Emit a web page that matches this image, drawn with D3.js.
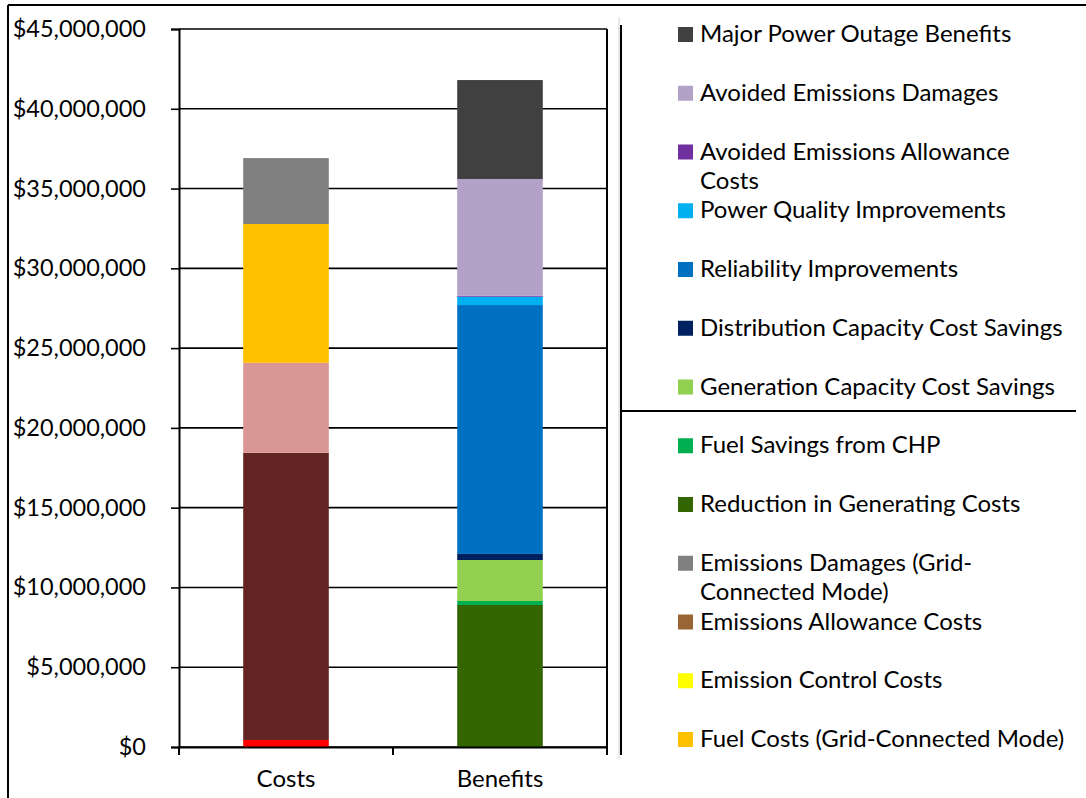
<html>
<head>
    <script src="https://d3js.org/d3.v7.min.js" charSet="utf-8"></script>
    <style>
        body { margin: 0; background: #fff; }
        .axis-text, .legend-text { font-family: Lato, "Open Sans", sans-serif; fill: #000; }
    </style>
</head>
<body>
<div id="vis_container"></div>
<script>
    // categories on the x axis
    let categories = ["Costs", "Benefits"];

    // series in stacking order (bottom to top); values are [Costs, Benefits]
    let seriesNames = [
        "Initial Planning Costs",
        "Capital Costs",
        "Operations and Maintenance Costs",
        "Fuel Costs (Grid-Connected Mode)",
        "Emission Control Costs",
        "Emissions Allowance Costs",
        "Emissions Damages (Grid-Connected Mode)",
        "Reduction in Generating Costs",
        "Fuel Savings from CHP",
        "Generation Capacity Cost Savings",
        "Distribution Capacity Cost Savings",
        "Reliability Improvements",
        "Power Quality Improvements",
        "Avoided Emissions Allowance Costs",
        "Avoided Emissions Damages",
        "Major Power Outage Benefits"
    ];
    let seriesColors = [
        "#FF0000", "#632523", "#DA9694", "#FFC000", "#FFFF00", "#996633", "#808080",
        "#336600", "#00B050", "#92D050", "#002060", "#0070C0", "#00B0F0", "#7030A0",
        "#B3A2C7", "#404040"
    ];
    let costValues = [440000, 18000000, 5640000, 8700000, 0, 0, 4130000,
        0, 0, 0, 0, 0, 0, 0, 0, 0];
    let benefitValues = [0, 0, 0, 0, 0, 0, 0,
        8900000, 250000, 2570000, 380000, 15600000, 520000, 60000, 7320000, 6200000];

    // legend entries as visible (top to bottom), the rest is cut off
    let legendItems = [
        ["Major Power Outage Benefits"],
        ["Avoided Emissions Damages"],
        ["Avoided Emissions Allowance", "Costs"],
        ["Power Quality Improvements"],
        ["Reliability Improvements"],
        ["Distribution Capacity Cost Savings"],
        ["Generation Capacity Cost Savings"],
        ["Fuel Savings from CHP"],
        ["Reduction in Generating Costs"],
        ["Emissions Damages (Grid-", "Connected Mode)"],
        ["Emissions Allowance Costs"],
        ["Emission Control Costs"],
        ["Fuel Costs (Grid-Connected Mode)"]
    ];
    let legendKeys = ["Major Power Outage Benefits", "Avoided Emissions Damages",
        "Avoided Emissions Allowance Costs", "Power Quality Improvements", "Reliability Improvements",
        "Distribution Capacity Cost Savings", "Generation Capacity Cost Savings", "Fuel Savings from CHP",
        "Reduction in Generating Costs", "Emissions Damages (Grid-Connected Mode)",
        "Emissions Allowance Costs", "Emission Control Costs", "Fuel Costs (Grid-Connected Mode)"];

    let yTicks = d3.range(0, 45000001, 5000000);

    let W = 1086, H = 798;
    let plotLeft = 179, plotRight = 607, plotTop = 29, plotBottom = 747;

    let svg = d3.select("#vis_container").append("svg")
        .attr("width", W).attr("height", H);

    // table rows for d3.stack
    let table = categories.map(function(c, i) {
        let row = {category: c};
        seriesNames.forEach(function(s, j) {
            row[s] = (i == 0 ? costValues : benefitValues)[j];
        });
        return row;
    });
    let stacked = d3.stack().keys(seriesNames)(table);
    let color = d3.scaleOrdinal().domain(seriesNames).range(seriesColors);

    let x = d3.scaleBand().domain(categories).range([plotLeft, plotRight]);
    let y = d3.scaleLinear().domain([0, 45000000]).range([plotBottom, plotTop]);
    let barW = x.bandwidth() * 0.4;

    // outer frame bits
    svg.append("line").attr("x1", 8).attr("x2", W).attr("y1", 5).attr("y2", 5)
        .attr("stroke", "#000").attr("stroke-width", 2);
    svg.append("line").attr("x1", 8).attr("x2", 8).attr("y1", 5).attr("y2", H)
        .attr("stroke", "#000").attr("stroke-width", 2);
    svg.append("line").attr("x1", 619).attr("x2", 619).attr("y1", 17).attr("y2", 758)
        .attr("stroke", "#d0d0d0").attr("stroke-width", 1);

    // gridlines
    svg.append("g").selectAll("line").data(yTicks).enter().append("line")
        .attr("x1", plotLeft).attr("x2", plotRight)
        .attr("y1", function(d) { return y(d); }).attr("y2", function(d) { return y(d); })
        .attr("stroke", "#000").attr("stroke-width", 1.6);

    // bars
    svg.append("g").selectAll("g").data(stacked).enter().append("g")
        .attr("fill", function(d) { return color(d.key); })
        .selectAll("rect").data(function(d) { return d; }).enter().append("rect")
        .attr("x", function(d) { return x(d.data.category) + (x.bandwidth() - barW) / 2; })
        .attr("width", barW)
        .attr("y", function(d) { return y(d[1]); })
        .attr("height", function(d) { return y(d[0]) - y(d[1]); });

    // y axis
    let yAxis = svg.append("g")
        .attr("transform", "translate(" + plotLeft + ",0)")
        .call(d3.axisLeft(y).tickValues(yTicks).tickSize(8).tickPadding(25)
            .tickFormat(function(d) { return "$" + d3.format(",")(d); }));
    yAxis.select(".domain").attr("stroke-width", 2);
    yAxis.selectAll(".tick line").attr("stroke-width", 1.6);
    yAxis.selectAll("text").attr("class", "axis-text").style("font-size", "23.5px");

    // x axis
    let xAxis = svg.append("g")
        .attr("transform", "translate(0," + plotBottom + ")")
        .call(d3.axisBottom(x).tickSize(0).tickPadding(23));
    xAxis.select(".domain").attr("stroke-width", 2);
    xAxis.selectAll("text").attr("class", "axis-text").style("font-size", "24px");
    svg.append("g").selectAll("line").data([plotLeft, plotLeft + x.bandwidth(), plotRight]).enter().append("line")
        .attr("x1", function(d) { return d; }).attr("x2", function(d) { return d; })
        .attr("y1", plotBottom).attr("y2", plotBottom + 8)
        .attr("stroke", "#000").attr("stroke-width", 2);
    svg.append("line").attr("x1", plotRight).attr("x2", plotRight).attr("y1", plotTop).attr("y2", plotBottom)
        .attr("stroke", "#000").attr("stroke-width", 2);

    // legend table lines
    svg.append("line").attr("x1", 621).attr("x2", 621).attr("y1", 25).attr("y2", 755)
        .attr("stroke", "#000").attr("stroke-width", 2);
    svg.append("line").attr("x1", 621).attr("x2", 1076).attr("y1", 411).attr("y2", 411)
        .attr("stroke", "#000").attr("stroke-width", 2);

    // legend
    let legendY = d3.scalePoint().domain(d3.range(legendItems.length)).range([34, 739]);
    let lg = svg.append("g").selectAll("g").data(legendItems).enter().append("g")
        .attr("transform", function(d, i) { return "translate(678," + legendY(i) + ")"; });
    lg.append("rect").attr("x", 0).attr("y", -7).attr("width", 15).attr("height", 15)
        .attr("fill", function(d, i) { return color(legendKeys[i]); });
    lg.each(function(d) {
        let t = d3.select(this).append("text").attr("class", "legend-text")
            .attr("x", 22).attr("y", 8).style("font-size", "24px");
        d.forEach(function(line, k) {
            t.append("tspan").attr("x", 22).attr("dy", k == 0 ? 0 : 29).text(line);
        });
    });
</script>
</body>
</html>
